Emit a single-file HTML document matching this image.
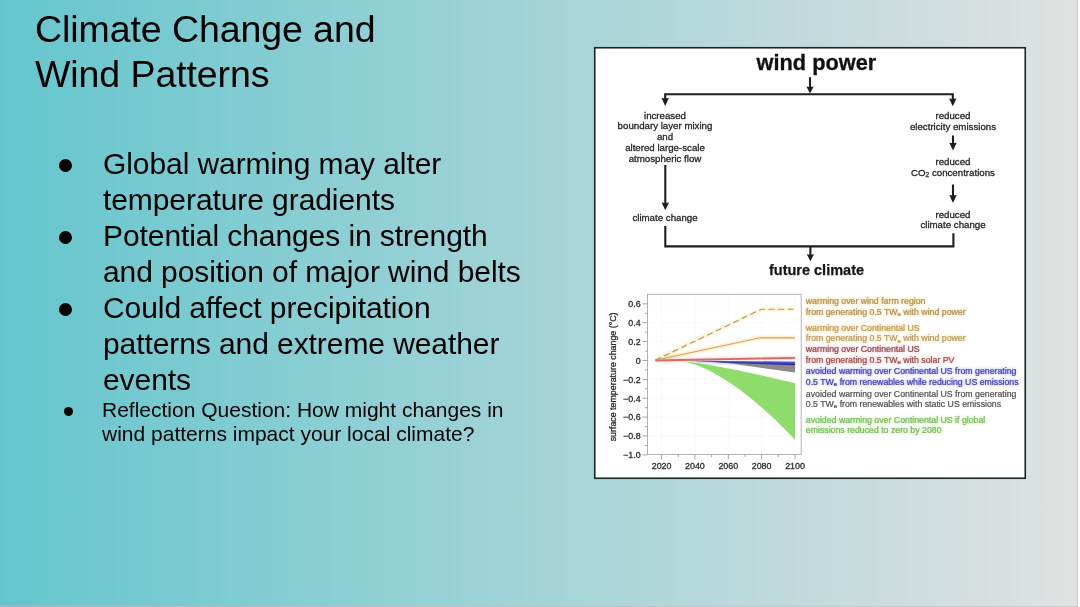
<!DOCTYPE html>
<html><head><meta charset="utf-8">
<style>
html,body{margin:0;padding:0;}
body{width:1080px;height:607px;overflow:hidden;background:#fff;font-family:"Liberation Sans",sans-serif;color:#000;}
#slide{position:absolute;left:0;top:0;width:1077px;height:607px;background:linear-gradient(90deg,#64c6cd 0%,#e1e1e1 100%);overflow:hidden;}
#rb{position:absolute;left:1077px;top:0;width:1px;height:607px;background:#c6c7c7;}
#bb{position:absolute;left:0;top:606px;width:1078px;height:1px;background:rgba(188,192,192,0.6);}
#title,.t1,.t2{will-change:transform;}
#title{position:absolute;left:35px;top:7px;font-size:37.5px;line-height:45px;letter-spacing:-0.08px;white-space:nowrap;}
.b{position:absolute;border-radius:50%;background:#000;}
.b1{width:13px;height:13px;left:59px;}
.t1{position:absolute;left:103px;top:146px;font-size:30px;line-height:36px;letter-spacing:-0.08px;white-space:nowrap;}
.t2{position:absolute;left:102px;top:398px;font-size:21px;line-height:24px;white-space:nowrap;}
svg{position:absolute;left:0;top:0;}
svg text{font-family:"Liberation Sans",sans-serif;}
#figc{filter:blur(0.6px);}
#halo{filter:blur(1.5px);opacity:0.55;}
</style></head><body>
<div id="slide">
<div id="title">Climate Change and<br>Wind Patterns</div>
<div class="b b1" style="top:159px"></div>
<div class="b b1" style="top:231px"></div>
<div class="b b1" style="top:303px"></div>
<div class="b" style="left:64px;top:407px;width:9px;height:9px"></div>
<div class="t1">Global warming may alter<br>temperature gradients<br>Potential changes in strength<br>and position of major wind belts<br>Could affect precipitation<br>patterns and extreme weather<br>events</div>
<div class="t2">Reflection Question: How might changes in<br>wind patterns impact your local climate?</div>
<svg width="1080" height="607" viewBox="0 0 1080 607">
<rect x="594.75" y="47.75" width="430.5" height="430.5" fill="#fff" stroke="#1b2426" stroke-width="1.6"/>
<g id="halo"><text x="805.8" y="304.1" font-size="8.75" fill="#f6cf62" stroke="#f6cf62" stroke-width="0.8">warming over wind farm region</text>
<text x="805.8" y="314.6" font-size="8.75" fill="#f6cf62" stroke="#f6cf62" stroke-width="0.8">from generating 0.5 TW<tspan font-size="6" dy="1.4">e</tspan><tspan dy="-1.4"> </tspan>with wind power</text>
<text x="805.8" y="330.7" font-size="8.75" fill="#f8c858" stroke="#f8c858" stroke-width="0.8">warming over Continental US</text>
<text x="805.8" y="341.3" font-size="8.75" fill="#f6d070" stroke="#f6d070" stroke-width="0.8">from generating 0.5 TW<tspan font-size="6" dy="1.4">e</tspan><tspan dy="-1.4"> </tspan>with wind power</text>
<text x="805.8" y="352.2" font-size="8.75" fill="#f0a0a8" stroke="#f0a0a8" stroke-width="0.8">warming over Continental US</text>
<text x="805.8" y="362.7" font-size="8.75" fill="#f4a09c" stroke="#f4a09c" stroke-width="0.8">from generating 0.5 TW<tspan font-size="6" dy="1.4">e</tspan><tspan dy="-1.4"> </tspan>with solar PV</text>
<text x="805.8" y="374.1" font-size="8.75" fill="#9c9cfa" stroke="#9c9cfa" stroke-width="0.8">avoided warming over Continental US from generating</text>
<text x="805.8" y="384.6" font-size="8.75" fill="#9c9cfa" stroke="#9c9cfa" stroke-width="0.8">0.5 TW<tspan font-size="6" dy="1.4">e</tspan><tspan dy="-1.4"> </tspan>from renewables while reducing US emissions</text>
<text x="805.8" y="423.0" font-size="8.75" fill="#b4f090" stroke="#b4f090" stroke-width="0.8">avoided warming over Continental US if global</text>
<text x="805.8" y="433.1" font-size="8.75" fill="#b4f090" stroke="#b4f090" stroke-width="0.8">emissions reduced to zero by 2080</text>
<path d="M655.3 360.2 L761.4 309.2 L795 309.2" stroke="#f8d878" stroke-width="2.6" fill="none"/>
<path d="M655.3 360.2 L760 337.8 L795 337.8" stroke="#f8cc60" stroke-width="2.6" fill="none"/>
<path d="M655.3 360.4 L795 358" stroke="#f6a8a0" stroke-width="3.4" fill="none"/>
<path d="M690 361 L795 363.5" stroke="#b0a8fa" stroke-width="4" fill="none"/></g>
<g id="figc">
<g stroke="#1e1e1e" stroke-width="2.1" fill="none">
<path d="M665.2 100 V94.3 H952.8 V100"/>
<path d="M810 77.2 V88"/>
<path d="M665.3 165 V204"/>
<path d="M953 135.5 V145"/>
<path d="M953 184.5 V197"/>
<path d="M665.3 226 V246.4 H953.4 V233.3"/>
<path d="M810.4 246.4 V256"/>
</g>
<path d="M661.50 98.10 L665.20 98.60 L668.90 98.10 L665.20 105.90 Z" fill="#1e1e1e"/>
<path d="M949.10 98.50 L952.80 99.00 L956.50 98.50 L952.80 106.30 Z" fill="#1e1e1e"/>
<path d="M806.35 86.40 L810.00 86.90 L813.65 86.40 L810.00 93.40 Z" fill="#1e1e1e"/>
<path d="M661.60 202.50 L665.30 203.00 L669.00 202.50 L665.30 210.30 Z" fill="#1e1e1e"/>
<path d="M949.30 142.80 L953.00 143.30 L956.70 142.80 L953.00 150.60 Z" fill="#1e1e1e"/>
<path d="M949.30 195.10 L953.00 195.60 L956.70 195.10 L953.00 202.90 Z" fill="#1e1e1e"/>
<path d="M806.80 254.20 L810.40 254.70 L814.00 254.20 L810.40 261.20 Z" fill="#1e1e1e"/>
<text x="816.4" y="69.9" text-anchor="middle" font-weight="bold" font-size="21.75" fill="#111" stroke="#111" stroke-width="0.3">wind power</text>
<text x="816.5" y="274.6" text-anchor="middle" font-weight="bold" font-size="14.5" fill="#151515" stroke="#151515" stroke-width="0.25">future climate</text>
<text x="665" y="118.5" text-anchor="middle" font-size="9.7" fill="#262626" stroke="#262626" stroke-width="0.3">increased</text>
<text x="665" y="129.4" text-anchor="middle" font-size="9.7" fill="#262626" stroke="#262626" stroke-width="0.3">boundary layer mixing</text>
<text x="665" y="140.4" text-anchor="middle" font-size="9.7" fill="#262626" stroke="#262626" stroke-width="0.3">and</text>
<text x="665" y="151.3" text-anchor="middle" font-size="9.7" fill="#262626" stroke="#262626" stroke-width="0.3">altered large-scale</text>
<text x="665" y="162.1" text-anchor="middle" font-size="9.7" fill="#262626" stroke="#262626" stroke-width="0.3">atmospheric flow</text>
<text x="665" y="220.7" text-anchor="middle" font-size="9.7" fill="#262626" stroke="#262626" stroke-width="0.3">climate change</text>
<text x="953" y="119.3" text-anchor="middle" font-size="9.7" fill="#262626" stroke="#262626" stroke-width="0.3">reduced</text>
<text x="953" y="129.5" text-anchor="middle" font-size="9.7" fill="#262626" stroke="#262626" stroke-width="0.3">electricity emissions</text>
<text x="953" y="165.1" text-anchor="middle" font-size="9.7" fill="#262626" stroke="#262626" stroke-width="0.3">reduced</text>
<text x="953" y="175.7" text-anchor="middle" font-size="9.7" fill="#262626" stroke="#262626" stroke-width="0.3">CO<tspan font-size="6.5" dy="1.5">2</tspan><tspan dy="-1.5"> concentrations</tspan></text>
<text x="953" y="217.7" text-anchor="middle" font-size="9.7" fill="#262626" stroke="#262626" stroke-width="0.3">reduced</text>
<text x="953" y="228.3" text-anchor="middle" font-size="9.7" fill="#262626" stroke="#262626" stroke-width="0.3">climate change</text>
<path d="M661.6 294.3 V454.5 M694.9 294.3 V454.5 M728.3 294.3 V454.5 M761.6 294.3 V454.5 M795.0 294.3 V454.5 M647.5 436.0 H801.2 M647.5 417.1 H801.2 M647.5 398.3 H801.2 M647.5 379.4 H801.2 M647.5 360.5 H801.2 M647.5 341.6 H801.2 M647.5 322.7 H801.2 M647.5 303.9 H801.2" stroke="#f7f7f7" stroke-width="0.8" fill="none"/>
<path d="M679.0 361.0 L683.0 361.3 L687.0 361.73 L691.0 362.22 L695.0 362.77 L699.0 363.35 L703.0 363.97 L707.0 364.62 L711.0 365.29 L715.0 365.99 L719.0 366.71 L723.0 367.45 L727.0 368.21 L731.0 368.99 L735.0 369.78 L739.0 370.59 L743.0 371.42 L747.0 372.26 L751.0 373.11 L755.0 373.98 L759.0 374.86 L763.0 375.75 L767.0 376.66 L771.0 377.57 L775.0 378.5 L779.0 379.44 L783.0 380.39 L787.0 381.35 L791.0 382.32 L795.0 383.3 L795.0 439.7 L791.0 435.52 L787.0 431.41 L783.0 427.39 L779.0 423.46 L775.0 419.62 L771.0 415.86 L767.0 412.19 L763.0 408.61 L759.0 405.13 L755.0 401.74 L751.0 398.45 L747.0 395.26 L743.0 392.18 L739.0 389.2 L735.0 386.32 L731.0 383.56 L727.0 380.92 L723.0 378.4 L719.0 376.0 L715.0 373.73 L711.0 371.6 L707.0 369.61 L703.0 367.77 L699.0 366.1 L695.0 364.6 L691.0 363.3 L687.0 362.22 L683.0 361.42 L679.0 361.0 Z" fill="#8ddc6c"/>
<path d="M716 362 L795 365.2 L795 372.6 L734 364 Z" fill="#8a8a8a"/>
<path d="M684 360.4 L795 361.8 L795 365.3 L740 363.2 Z" fill="#4c4cc6"/>
<path d="M690 360.9 L795 364.0 L795 365.3 L740 363.2 Z" fill="#2c2c94"/>
<path d="M655.3 359.4 L795 357.0 L795 358.7 L655.3 361.4 Z" fill="#cf6c64"/>
<path d="M655.3 360.2 L760 337.8 L795 337.8" stroke="#d0a45e" stroke-width="1.15" fill="none"/>
<path d="M655.3 360.2 L761.4 309.2 L795 309.2" stroke="#ac9868" stroke-width="1.15" stroke-dasharray="6 3.6" fill="none"/>
<rect x="647.5" y="294.3" width="153.70000000000005" height="160.2" fill="none" stroke="#ababab" stroke-width="0.9"/>
<path d="M642.3 454.9 H647.5 M645.0 445.5 H647.5 M642.3 436.0 H647.5 M645.0 426.6 H647.5 M642.3 417.1 H647.5 M645.0 407.7 H647.5 M642.3 398.3 H647.5 M645.0 388.8 H647.5 M642.3 379.4 H647.5 M645.0 369.9 H647.5 M642.3 360.5 H647.5 M645.0 351.1 H647.5 M642.3 341.6 H647.5 M645.0 332.2 H647.5 M642.3 322.7 H647.5 M645.0 313.3 H647.5 M642.3 303.9 H647.5 M661.6 454.5 v5 M678.3 454.5 v2.5 M694.9 454.5 v5 M711.6 454.5 v2.5 M728.3 454.5 v5 M745.0 454.5 v2.5 M761.6 454.5 v5 M778.3 454.5 v2.5 M795.0 454.5 v5" stroke="#9c9c9c" stroke-width="0.9" fill="none"/>
<text x="640.6" y="458.1" text-anchor="end" font-size="8.9" fill="#2e2e2e" stroke="#2e2e2e" stroke-width="0.32">−1.0</text>
<text x="640.6" y="439.2" text-anchor="end" font-size="8.9" fill="#2e2e2e" stroke="#2e2e2e" stroke-width="0.32">−0.8</text>
<text x="640.6" y="420.3" text-anchor="end" font-size="8.9" fill="#2e2e2e" stroke="#2e2e2e" stroke-width="0.32">−0.6</text>
<text x="640.6" y="401.5" text-anchor="end" font-size="8.9" fill="#2e2e2e" stroke="#2e2e2e" stroke-width="0.32">−0.4</text>
<text x="640.6" y="382.6" text-anchor="end" font-size="8.9" fill="#2e2e2e" stroke="#2e2e2e" stroke-width="0.32">−0.2</text>
<text x="640.6" y="363.7" text-anchor="end" font-size="8.9" fill="#2e2e2e" stroke="#2e2e2e" stroke-width="0.32">0</text>
<text x="640.6" y="344.8" text-anchor="end" font-size="8.9" fill="#2e2e2e" stroke="#2e2e2e" stroke-width="0.32">0.2</text>
<text x="640.6" y="325.9" text-anchor="end" font-size="8.9" fill="#2e2e2e" stroke="#2e2e2e" stroke-width="0.32">0.4</text>
<text x="640.6" y="307.1" text-anchor="end" font-size="8.9" fill="#2e2e2e" stroke="#2e2e2e" stroke-width="0.32">0.6</text>
<text x="661.6" y="469.4" text-anchor="middle" font-size="8.9" fill="#2e2e2e" stroke="#2e2e2e" stroke-width="0.32">2020</text>
<text x="694.9" y="469.4" text-anchor="middle" font-size="8.9" fill="#2e2e2e" stroke="#2e2e2e" stroke-width="0.32">2040</text>
<text x="728.3" y="469.4" text-anchor="middle" font-size="8.9" fill="#2e2e2e" stroke="#2e2e2e" stroke-width="0.32">2060</text>
<text x="761.6" y="469.4" text-anchor="middle" font-size="8.9" fill="#2e2e2e" stroke="#2e2e2e" stroke-width="0.32">2080</text>
<text x="795.0" y="469.4" text-anchor="middle" font-size="8.9" fill="#2e2e2e" stroke="#2e2e2e" stroke-width="0.32">2100</text>
<text transform="translate(616.1 376.9) rotate(-90)" text-anchor="middle" font-size="8.85" fill="#2e2e2e" stroke="#2e2e2e" stroke-width="0.32">surface temperature change (°C)</text>
<text x="805.8" y="304.1" font-size="8.75" fill="#b08e5c" stroke="#b08e5c" stroke-width="0.22">warming over wind farm region</text>
<text x="805.8" y="314.6" font-size="8.75" fill="#b08e5c" stroke="#b08e5c" stroke-width="0.22">from generating 0.5 TW<tspan font-size="6" dy="1.4">e</tspan><tspan dy="-1.4"> </tspan>with wind power</text>
<text x="805.8" y="330.7" font-size="8.75" fill="#c4985a" stroke="#c4985a" stroke-width="0.22">warming over Continental US</text>
<text x="805.8" y="341.3" font-size="8.75" fill="#b89a68" stroke="#b89a68" stroke-width="0.22">from generating 0.5 TW<tspan font-size="6" dy="1.4">e</tspan><tspan dy="-1.4"> </tspan>with wind power</text>
<text x="805.8" y="352.2" font-size="8.75" fill="#8e4a52" stroke="#8e4a52" stroke-width="0.22">warming over Continental US</text>
<text x="805.8" y="362.7" font-size="8.75" fill="#9a4c4c" stroke="#9a4c4c" stroke-width="0.22">from generating 0.5 TW<tspan font-size="6" dy="1.4">e</tspan><tspan dy="-1.4"> </tspan>with solar PV</text>
<text x="805.8" y="374.1" font-size="8.75" fill="#3e3eb0" stroke="#3e3eb0" stroke-width="0.22">avoided warming over Continental US from generating</text>
<text x="805.8" y="384.6" font-size="8.75" fill="#3e3eb0" stroke="#3e3eb0" stroke-width="0.22">0.5 TW<tspan font-size="6" dy="1.4">e</tspan><tspan dy="-1.4"> </tspan>from renewables while reducing US emissions</text>
<text x="805.8" y="397.1" font-size="8.75" fill="#505050" stroke="#505050" stroke-width="0.22">avoided warming over Continental US from generating</text>
<text x="805.8" y="407.0" font-size="8.75" fill="#505050" stroke="#505050" stroke-width="0.22">0.5 TW<tspan font-size="6" dy="1.4">e</tspan><tspan dy="-1.4"> </tspan>from renewables with static US emissions</text>
<text x="805.8" y="423.0" font-size="8.75" fill="#74b85c" stroke="#74b85c" stroke-width="0.22">avoided warming over Continental US if global</text>
<text x="805.8" y="433.1" font-size="8.75" fill="#74b85c" stroke="#74b85c" stroke-width="0.22">emissions reduced to zero by 2080</text>
</g>
</svg>
</div>
<div id="rb"></div><div id="bb"></div>
</body></html>
